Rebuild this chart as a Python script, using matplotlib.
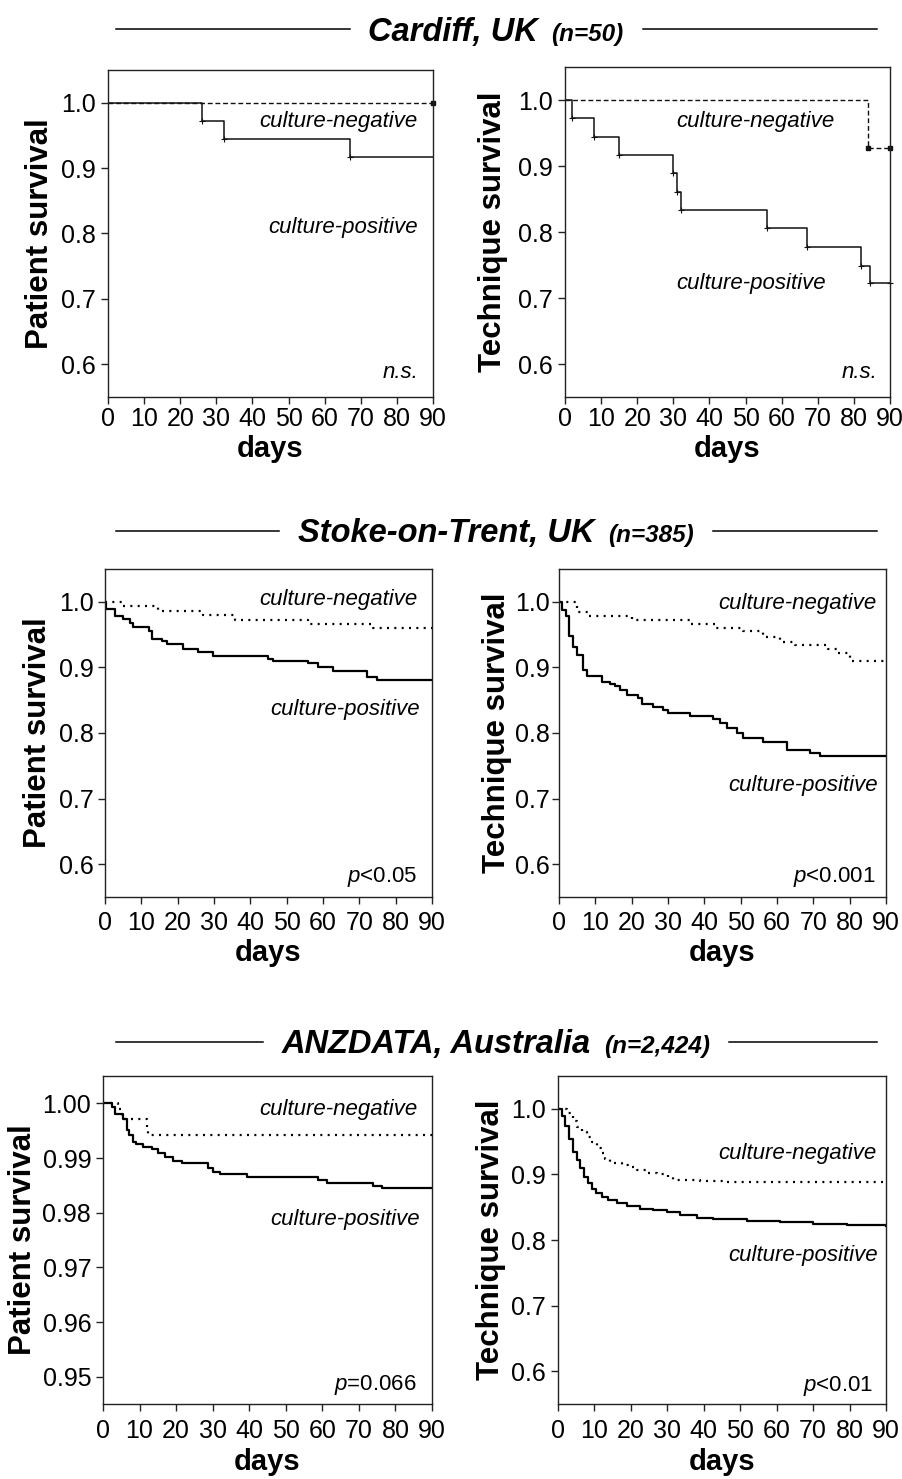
import matplotlib
matplotlib.use("Agg")
import matplotlib.pyplot as plt
from matplotlib.lines import Line2D

# ---------------------------------------------------------------- data
day_ticks = [0, 10, 20, 30, 40, 50, 60, 70, 80, 90]
surv_ticks = [0.6, 0.7, 0.8, 0.9, 1.0]
surv_ticklabels = ["0.6", "0.7", "0.8", "0.9", "1.0"]
anz_pt_ticks = [0.95, 0.96, 0.97, 0.98, 0.99, 1.00]
anz_pt_ticklabels = ["0.95", "0.96", "0.97", "0.98", "0.99", "1.00"]

# Cardiff, UK (n=50)
cardiff_pt_neg_t = [0, 90]
cardiff_pt_neg_s = [1.0, 1.0]
cardiff_pt_pos_t = [0, 26, 32, 67, 90]
cardiff_pt_pos_s = [1.0, 0.972, 0.944, 0.917, 0.917]
cardiff_tq_neg_t = [0, 84, 90]
cardiff_tq_neg_s = [1.0, 0.928, 0.928]
cardiff_tq_pos_t = [0, 2, 8, 15, 30, 31, 32, 56, 67, 82, 84.5, 90]
cardiff_tq_pos_s = [1.0, 0.972, 0.944, 0.917, 0.889, 0.861, 0.833,
                    0.806, 0.777, 0.749, 0.722, 0.722]

# Stoke-on-Trent, UK (n=385)
stoke_pt_neg_t = [0, 4.6, 14.7, 27, 35.7, 56, 73.8, 90]
stoke_pt_neg_s = [1.0, 0.993, 0.986, 0.980, 0.973, 0.966, 0.960, 0.960]
stoke_pt_pos_t = [0, 0.3, 2.75, 5.0, 6.9, 7.8, 12.2, 12.8, 15.6, 17.0, 21.5,
                  25.7, 29.8, 44.9, 46.2, 56.0, 58.7, 62.8, 72.0, 74.8, 90]
stoke_pt_pos_s = [1.0, 0.989, 0.978, 0.974, 0.967, 0.962, 0.955, 0.944, 0.940,
                  0.936, 0.928, 0.923, 0.918, 0.913, 0.910, 0.906, 0.900,
                  0.894, 0.886, 0.881, 0.881]
stoke_tq_neg_t = [0, 4.9, 8.1, 20.0, 36.1, 42.9, 50.7, 56.2, 60.8, 65.0,
                  74.1, 76.4, 80.1, 90]
stoke_tq_neg_s = [1.0, 0.985, 0.979, 0.973, 0.966, 0.960, 0.955, 0.947,
                  0.939, 0.934, 0.928, 0.922, 0.909, 0.909]
stoke_tq_pos_t = [0, 0.7, 1.9, 2.8, 3.8, 4.9, 6.7, 7.6, 11.7, 14.0, 15.4,
                  16.8, 18.6, 21.8, 22.8, 26.0, 28.7, 30.1, 36.1, 42.5, 44.3,
                  46.2, 48.9, 50.7, 56.2, 62.7, 69.1, 71.8, 90]
stoke_tq_pos_s = [1.0, 0.988, 0.978, 0.948, 0.931, 0.919, 0.896, 0.887,
                  0.878, 0.875, 0.872, 0.865, 0.858, 0.853, 0.844, 0.840,
                  0.835, 0.830, 0.826, 0.821, 0.816, 0.807, 0.800, 0.792,
                  0.787, 0.774, 0.769, 0.765, 0.765]

# ANZDATA, Australia (n=2,424)
anz_pt_neg_t = [0, 4.2, 5.1, 11.9, 12.4, 90]
anz_pt_neg_s = [1.0, 0.9990, 0.9972, 0.9957, 0.9942, 0.9942]
anz_pt_pos_t = [0, 2.4, 3.3, 5.6, 6.5, 7.2, 8.1, 9.0, 11.0, 13.3, 15.1, 17.0,
                19.2, 21.5, 28.8, 30.2, 32.0, 39.3, 58.9, 61.2, 73.9, 76.2, 90]
anz_pt_pos_s = [1.0, 0.9993, 0.9981, 0.9972, 0.9951, 0.9942, 0.9930, 0.9926,
                0.9921, 0.9916, 0.9910, 0.9902, 0.9895, 0.9890, 0.9881,
                0.9875, 0.9871, 0.9866, 0.9860, 0.9855, 0.9849, 0.9845,
                0.9845]
anz_tq_neg_t = [0, 2.6, 4.0, 5.1, 6.5, 7.9, 9.2, 10.6, 11.7, 12.9, 14.3,
                17.5, 19.3, 21.6, 24.3, 27.1, 30.3, 31.6, 39.0, 45.4, 90]
anz_tq_neg_s = [1.0, 0.994, 0.982, 0.973, 0.964, 0.957, 0.949, 0.941, 0.932,
                0.924, 0.917, 0.914, 0.911, 0.906, 0.902, 0.900, 0.896,
                0.892, 0.890, 0.888, 0.888]
anz_tq_pos_t = [0, 1.0, 1.9, 3.1, 4.0, 5.1, 6.0, 7.1, 8.1, 9.2, 10.4, 12.0,
                13.8, 16.1, 18.8, 22.5, 26.2, 29.8, 33.5, 38.1, 42.6, 51.8,
                60.9, 70.1, 79.2, 90]
anz_tq_pos_s = [1.0, 0.989, 0.974, 0.954, 0.934, 0.922, 0.909, 0.896, 0.887,
                0.878, 0.872, 0.866, 0.861, 0.857, 0.852, 0.848, 0.845,
                0.842, 0.838, 0.834, 0.832, 0.829, 0.828, 0.825, 0.823,
                0.822]

# ---------------------------------------------------------------- style
plt.rcParams['font.family'] = ['Liberation Sans', 'DejaVu Sans']
plt.rcParams['mathtext.fontset'] = 'custom'
plt.rcParams['mathtext.rm'] = 'Liberation Sans'
plt.rcParams['mathtext.it'] = 'Liberation Sans:italic'

W, H, DPI = 902, 1479, 100
fig = plt.figure(figsize=(W / DPI, H / DPI), dpi=DPI)
fig.patch.set_facecolor('white')

TICK_FS = 18
LABEL_FS = 22.5
NOTE_FS = 16


def make_axes(box):
    l, t, r, b = box
    ax = fig.add_axes([l / W, 1 - b / H, (r - l) / W, (b - t) / H])
    for sp in ax.spines.values():
        sp.set_linewidth(1.0)
        sp.set_color('#222222')
    return ax


def style_axes(ax, ylim, yticks, yticklabels, ylabel, ypad, label_x,
               xpad=3, xlabelpad=5):
    ax.set_xlim(0, 90)
    ax.set_ylim(*ylim)
    ax.set_xticks(day_ticks)
    ax.set_xticklabels([str(d) for d in day_ticks])
    ax.set_yticks(yticks)
    ax.set_yticklabels(yticklabels)
    ax.tick_params(direction='out', length=5, width=1.0, colors='#222222',
                   labelcolor='black', labelsize=TICK_FS)
    ax.tick_params(axis='y', pad=ypad)
    ax.tick_params(axis='x', pad=xpad)
    ax.set_xlabel('days', fontsize=LABEL_FS - 1.5, fontweight='bold',
                  labelpad=xlabelpad)
    ax.set_ylabel(ylabel, fontsize=LABEL_FS, fontweight='bold')
    ax.yaxis.label.set_verticalalignment('center')
    ax.yaxis.set_label_coords(label_x, 0.5)


def note(ax, box, x_px, y_px, s, ha='right'):
    l, t, r, b = box
    ax.text((x_px - l) / (r - l), (b - y_px) / (b - t), s,
            transform=ax.transAxes, ha=ha, va='center',
            fontsize=NOTE_FS, fontstyle='italic')


def stat_note(ax, box, x_px, y_px, s):
    l, t, r, b = box
    ax.text((x_px - l) / (r - l), (b - y_px) / (b - t), s,
            transform=ax.transAxes, ha='right', va='center',
            fontsize=NOTE_FS)


def section_title(y_line, main, sub, cx=496, x0=116, x1=877):
    rend = fig.canvas.get_renderer()
    t1 = fig.text(0, 0, main, fontsize=23.5, fontweight='bold',
                  fontstyle='italic', ha='left', va='baseline')
    t2 = fig.text(0, 0, sub, fontsize=17.5, fontweight='bold',
                  fontstyle='italic', ha='left', va='baseline')
    w1 = t1.get_window_extent(rend).width
    w2 = t2.get_window_extent(rend).width
    gap = 13
    xs = cx - (w1 + gap + w2) / 2
    base = y_line + 11.5
    t1.set_position((xs / W, 1 - base / H))
    t2.set_position(((xs + w1 + gap) / W, 1 - base / H))
    for a, b_ in ((x0, xs - 19), (xs + w1 + gap + w2 + 19, x1)):
        fig.add_artist(Line2D([a / W, b_ / W], [1 - y_line / H] * 2,
                              transform=fig.transFigure, color='black',
                              lw=1.1))


# ---------------------------------------------------------------- panels
thin = dict(color='#111111', lw=1.1)
dashed = dict(color='#111111', lw=1.0, linestyle=(0, (3.5, 2.0)))
bold = dict(color='black', lw=1.6)
dotted = dict(color='black', lw=1.6, linestyle=(0, (0.9, 2.4)))

# --- Cardiff, patient survival
box = (108, 70, 433, 397)
ax = make_axes(box)
ax.step(cardiff_pt_neg_t, cardiff_pt_neg_s, where='post', **dashed)
ax.step(cardiff_pt_pos_t, cardiff_pt_pos_s, where='post', **thin)
ax.plot(cardiff_pt_pos_t[1:-1], cardiff_pt_pos_s[1:-1], '+', color='#111111',
        ms=4, mew=0.8, clip_on=False)
ax.plot(cardiff_pt_neg_t[-1:], cardiff_pt_neg_s[-1:], 's', color='#111111',
        ms=3, clip_on=False)
style_axes(ax, (0.55, 1.05), surv_ticks, surv_ticklabels,
           'Patient survival', 4, -0.21, xpad=2.5, xlabelpad=2.5)
note(ax, box, 418, 122, 'culture-negative')
note(ax, box, 418, 228, 'culture-positive')
note(ax, box, 418, 372, 'n.s.')

# --- Cardiff, technique survival
box = (565, 67, 890, 397)
ax = make_axes(box)
ax.step(cardiff_tq_neg_t, cardiff_tq_neg_s, where='post', **dashed)
ax.step(cardiff_tq_pos_t, cardiff_tq_pos_s, where='post', **thin)
ax.plot(cardiff_tq_pos_t[1:], cardiff_tq_pos_s[1:], '+', color='#111111',
        ms=4, mew=0.8, clip_on=False)
ax.plot(cardiff_tq_neg_t[1:], cardiff_tq_neg_s[1:], 's', color='#111111',
        ms=3, clip_on=False)
style_axes(ax, (0.55, 1.05), surv_ticks, surv_ticklabels,
           'Technique survival', 4, -0.222, xpad=2.5, xlabelpad=2.5)
note(ax, box, 755, 122, 'culture-negative', ha='center')
note(ax, box, 751, 283, 'culture-positive', ha='center')
note(ax, box, 877, 372, 'n.s.')

# --- Stoke-on-Trent, patient survival
box = (105, 569, 432, 897)
ax = make_axes(box)
ax.step(stoke_pt_neg_t, stoke_pt_neg_s, where='post', **dotted)
ax.step(stoke_pt_pos_t, stoke_pt_pos_s, where='post', **bold)
style_axes(ax, (0.55, 1.05), surv_ticks, surv_ticklabels,
           'Patient survival', 3, -0.205, xpad=5, xlabelpad=3)
note(ax, box, 418, 599, 'culture-negative')
note(ax, box, 420, 710, 'culture-positive')
stat_note(ax, box, 417, 877, '$p$<0.05')

# --- Stoke-on-Trent, technique survival
box = (559, 569, 886, 897)
ax = make_axes(box)
ax.step(stoke_tq_neg_t, stoke_tq_neg_s, where='post', **dotted)
ax.step(stoke_tq_pos_t, stoke_tq_pos_s, where='post', **bold)
style_axes(ax, (0.55, 1.05), surv_ticks, surv_ticklabels,
           'Technique survival', 1.5, -0.19, xpad=5, xlabelpad=3)
note(ax, box, 877, 603, 'culture-negative')
note(ax, box, 878, 785, 'culture-positive')
stat_note(ax, box, 876, 877, '$p$<0.001')

# --- ANZDATA, patient survival
box = (103, 1076, 432, 1404)
ax = make_axes(box)
ax.step(anz_pt_neg_t, anz_pt_neg_s, where='post', **dotted)
ax.step(anz_pt_pos_t, anz_pt_pos_s, where='post', **bold)
style_axes(ax, (0.945, 1.005), anz_pt_ticks, anz_pt_ticklabels,
           'Patient survival', 3.5, -0.243, xpad=6, xlabelpad=3.5)
note(ax, box, 418, 1110, 'culture-negative')
note(ax, box, 420, 1220, 'culture-positive')
stat_note(ax, box, 417, 1385, '$p$=0.066')

# --- ANZDATA, technique survival
box = (558, 1076, 886, 1404)
ax = make_axes(box)
ax.step(anz_tq_neg_t, anz_tq_neg_s, where='post', **dotted)
ax.step(anz_tq_pos_t, anz_tq_pos_s, where='post', **bold)
style_axes(ax, (0.55, 1.05), surv_ticks, surv_ticklabels,
           'Technique survival', 3.5, -0.204, xpad=6, xlabelpad=3.5)
note(ax, box, 877, 1153, 'culture-negative')
note(ax, box, 878, 1255, 'culture-positive')
stat_note(ax, box, 873, 1386, '$p$<0.01')

# ---------------------------------------------------------------- headings
section_title(29, 'Cardiff, UK', '(n=50)')
section_title(531, 'Stoke-on-Trent, UK', '(n=385)')
section_title(1042, 'ANZDATA, Australia', '(n=2,424)')

fig.savefig('out.png', dpi=DPI, facecolor='white')
